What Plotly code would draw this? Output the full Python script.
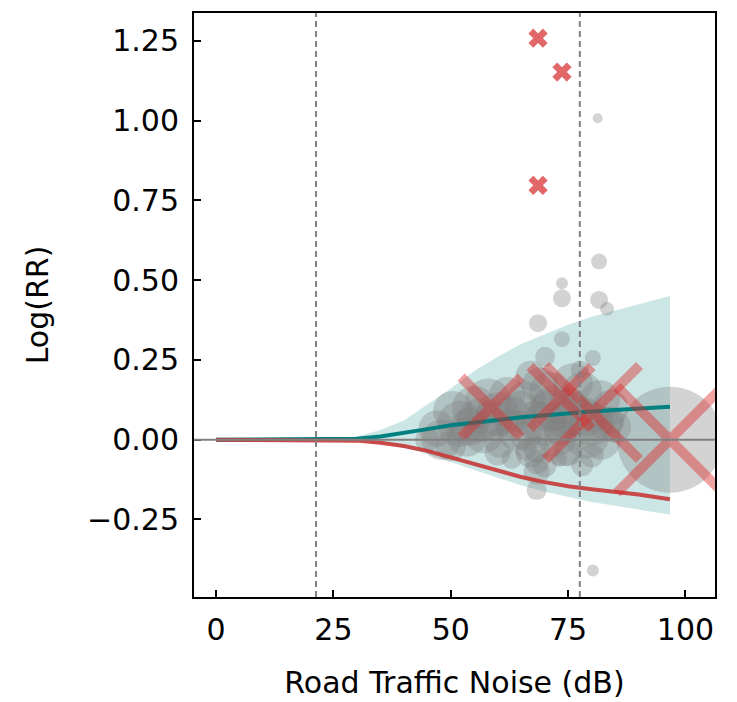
import plotly.graph_objects as go

# ---- data ----
curve_x = [0, 10, 20, 25, 30, 35, 40, 45, 50, 55, 60, 65, 70, 75, 80, 85, 90, 96.7]
teal_y = [0, 0, 0, 0, 0.003, 0.01, 0.02, 0.033, 0.045, 0.055, 0.062, 0.07, 0.077, 0.083, 0.088, 0.093, 0.097, 0.103]
red_y = [0, 0, 0, 0, -0.003, -0.01, -0.02, -0.035, -0.055, -0.076, -0.097, -0.117, -0.133, -0.146, -0.155, -0.162, -0.172, -0.187]
band_x = [26, 30, 35, 40, 45, 50, 55, 60, 65, 70, 75, 80, 85, 90, 96.7]
band_upper = [0, 0.01, 0.03, 0.06, 0.11, 0.16, 0.215, 0.26, 0.3, 0.33, 0.36, 0.385, 0.405, 0.425, 0.45]
band_lower = [0, -0.004, -0.012, -0.025, -0.045, -0.07, -0.095, -0.12, -0.143, -0.163, -0.18, -0.195, -0.207, -0.218, -0.235]

study_x = [81.3, 80.3, 81.6, 73.7, 73.7, 81.6, 83.3, 68.6, 73.7, 70.1, 80.3,
           47, 50.5, 53.5, 58, 56, 60.5, 62.6, 65, 67, 68.3, 68.3, 68.3, 68.3,
           71, 72.5, 73, 74.5, 76, 77.5, 79, 80, 81.8, 84, 96.7, 63, 66, 45,
           48, 52, 55, 57, 60, 62, 64, 66, 69, 70, 72, 74, 76, 78, 80, 82, 84, 85,
           67, 70, 75, 78, 60, 50,
           54, 59, 63, 68, 71, 75, 79, 83, 66, 73]
study_y = [1.007, -0.41, 0.558, 0.49, 0.443, 0.438, 0.41, 0.365, 0.315, 0.26, 0.256,
           0.035, 0.09, 0.01, 0.12, 0.06, -0.01, 0.05, 0.1, 0.2, -0.03, -0.07, -0.1, -0.158,
           0.15, 0.01, -0.06, 0.06, 0.177, 0.22, 0.01, -0.05, 0.124, 0.06, 0.0, -0.06, -0.03, 0.0,
           0.0, 0.05, 0.1, 0.02, 0.08, 0.14, 0.03, 0.12, 0.17, 0.05, 0.1, -0.02, 0.08, 0.15, 0.05, 0.0, 0.1, 0.04,
           -0.04, -0.08, -0.04, -0.08, -0.04, -0.02,
           0.04, 0.06, 0.08, 0.06, 0.09, 0.1, 0.07, 0.05, 0.01, 0.03]
study_size = [10, 12, 16, 12, 18, 18, 14, 18, 16, 20, 16,
              36, 40, 40, 46, 44, 30, 30, 34, 30, 26, 24, 26, 20,
              40, 40, 16, 36, 40, 18, 44, 24, 40, 28, 106, 20, 22, 24,
              40, 46, 44, 40, 44, 36, 40, 40, 36, 44, 46, 40, 44, 40, 44, 40, 36, 32,
              30, 24, 28, 22, 26, 30,
              38, 40, 36, 40, 42, 40, 38, 34, 30, 30]

big_x_x = [58.6, 73.5, 80.2, 96.7]
big_x_y = [0.102, 0.132, 0.085, 0.0]
big_x_size = [60, 62, 94, 106]

outlier_x = [68.6, 73.7, 68.6]
outlier_y = [1.258, 1.152, 0.797]

vlines = [21.3, 77.5]

x_ticks = [0, 25, 50, 75, 100]
y_ticks = [-0.25, 0, 0.25, 0.5, 0.75, 1.0, 1.25]
y_ticktext = ["\u22120.25", "0.00", "0.25", "0.50", "0.75", "1.00", "1.25"]

# ---- figure ----
fig = go.Figure()

fig.add_trace(go.Scatter(
    x=band_x + band_x[::-1], y=band_upper + band_lower[::-1],
    fill="toself", fillcolor="rgba(0,128,128,0.2)", line=dict(width=0),
    mode="lines", hoverinfo="skip", showlegend=False))

fig.add_trace(go.Scatter(
    x=study_x, y=study_y, mode="markers",
    marker=dict(size=study_size, color="rgba(128,128,128,0.5)", line=dict(width=0)),
    showlegend=False))

fig.add_trace(go.Scatter(
    x=curve_x, y=teal_y, mode="lines",
    line=dict(color="#008080", width=4), showlegend=False))

fig.add_trace(go.Scatter(
    x=curve_x, y=red_y, mode="lines",
    line=dict(color="rgba(200,55,55,0.9)", width=4), showlegend=False))

fig.add_trace(go.Scatter(
    x=big_x_x, y=big_x_y, mode="markers",
    marker=dict(symbol="x-thin", size=big_x_size,
                line=dict(width=10, color="rgba(222,40,40,0.62)")),
    showlegend=False))

fig.add_trace(go.Scatter(
    x=outlier_x, y=outlier_y, mode="markers",
    marker=dict(symbol="x", size=17, color="rgba(214,39,40,0.7)", line=dict(width=0)),
    showlegend=False))

# zero line
fig.add_shape(type="line", xref="paper", yref="y", x0=0, x1=1, y0=0, y1=0,
              line=dict(color="gray", width=2), layer="above")
for v in vlines:
    fig.add_shape(type="line", xref="x", yref="paper", x0=v, x1=v, y0=0, y1=1,
                  line=dict(color="gray", width=2, dash="6px,4px"), layer="above")

axis_common = dict(showline=True, linecolor="black", linewidth=2, mirror=True,
                   ticks="inside", ticklen=7, tickwidth=2, tickcolor="black",
                   showgrid=False, zeroline=False, automargin=False,
                   tickfont=dict(family="DejaVu Sans", size=30, color="black"))

fig.update_layout(
    width=737, height=702,
    margin=dict(l=194, r=22, t=13, b=105),
    paper_bgcolor="white", plot_bgcolor="white",
    font=dict(family="DejaVu Sans", size=30, color="black"),
    xaxis=dict(range=[-4.7, 106.3], tickvals=x_ticks,
               title=dict(text="Road Traffic Noise (dB)", standoff=26,
                          font=dict(family="DejaVu Sans", size=30)),
               ticklabelstandoff=5, **axis_common),
    yaxis=dict(range=[-0.493, 1.337], tickvals=y_ticks, ticktext=y_ticktext,
               title=dict(text="Log(RR)", standoff=30,
                          font=dict(family="DejaVu Sans", size=30)),
               ticklabelstandoff=7, **axis_common),
)

fig.write_html("out.html")
